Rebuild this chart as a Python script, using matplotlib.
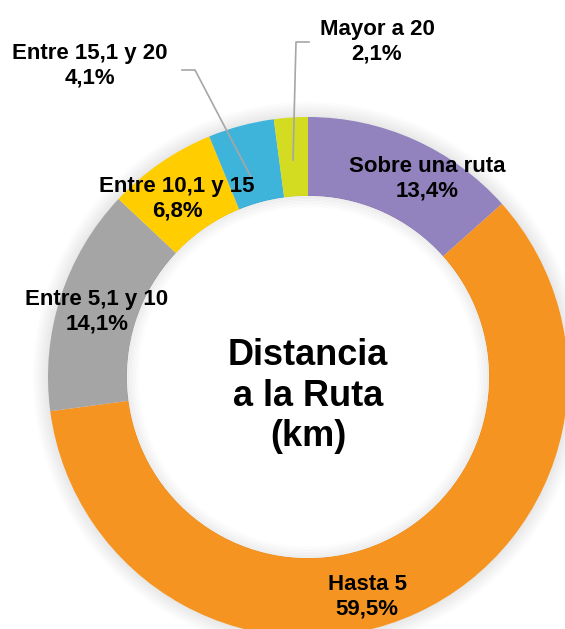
import matplotlib.pyplot as plt
from matplotlib.patches import Circle

W, H = 565, 629
DPI = 100

labels = ['Sobre una ruta', 'Hasta 5', 'Entre 5,1 y 10', 'Entre 10,1 y 15',
          'Entre 15,1 y 20', 'Mayor a 20']
values = [13.4, 59.5, 14.1, 6.8, 4.1, 2.1]
colors = ['#9282BE', '#F69421', '#A5A5A5', '#FFCD00', '#3FB4DA', '#D4DC22']

# label centres (image px, y from top)
label_pos = [(427, 179), (367, 597), (97, 312), (177, 199), (90, 66), (377, 42)]

CX, CY = 308, 629 - 377
R_OUT, R_IN = 260, 181

plt.rcParams['font.family'] = ['Liberation Sans', 'DejaVu Sans']

fig = plt.figure(figsize=(W / DPI, H / DPI), dpi=DPI)
ax = fig.add_axes([0, 0, 1, 1])

# soft shadow around the ring
for i in range(8):
    ax.add_patch(Circle((CX, CY), R_OUT + 1 + i * 2, color='#000000',
                        alpha=0.01, lw=0, zorder=0))

ax.pie(values, colors=colors, startangle=90, counterclock=False,
       radius=R_OUT, center=(CX, CY),
       wedgeprops=dict(width=R_OUT - R_IN, linewidth=0))

# inner shadow
ax.add_patch(Circle((CX, CY), R_IN, color='white', lw=0, zorder=3))
for i in range(8):
    ax.add_patch(Circle((CX, CY), R_IN - 0.5 - i * 1.5, fill=False, ec='#000000',
                        lw=1.5, alpha=0.05 * (1 - i / 8), zorder=3))

for lab, v, (x, y) in zip(labels, values, label_pos):
    txt = f"{lab}\n{str(v).replace('.', ',')}%"
    ax.text(x, H - y, txt, ha='center', va='center', fontsize=16,
            fontweight='bold', linespacing=1.2, zorder=5)

# leader lines
ax.plot([293, 296, 309], [H - 160, H - 42, H - 42], color='#A6A6A6', lw=1.2, zorder=4)
ax.plot([251, 195, 182], [H - 177, H - 70, H - 70], color='#A6A6A6', lw=1.2, zorder=4)

ax.text(CX, H - 396, 'Distancia\na la Ruta\n(km)', ha='center', va='center',
        fontsize=26, fontweight='bold', linespacing=1.2, zorder=5)

ax.set_xlim(0, W)
ax.set_ylim(0, H)
ax.set_aspect('auto')
ax.axis('off')

fig.savefig('out.png', dpi=DPI, facecolor='white')
